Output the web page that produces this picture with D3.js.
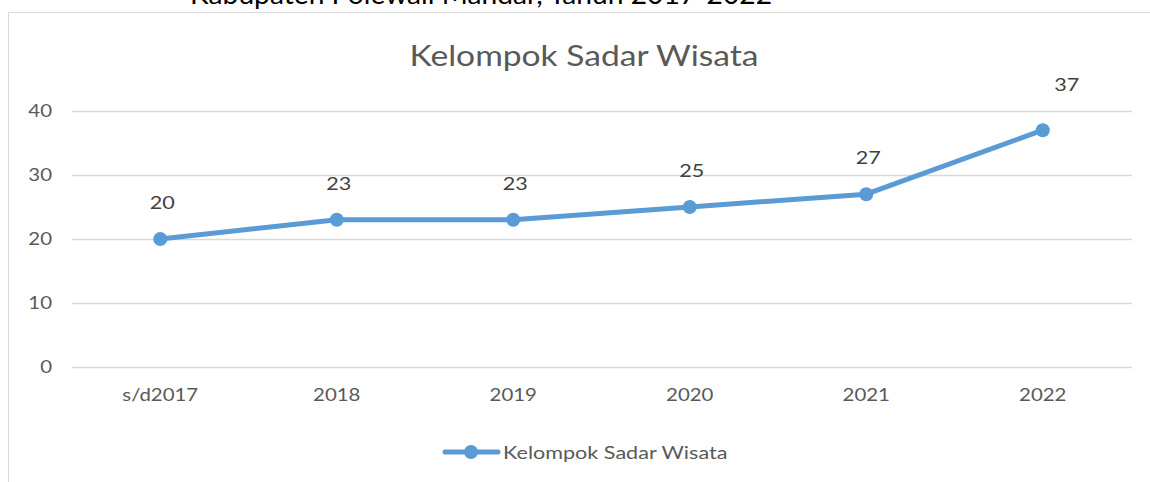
<!DOCTYPE html>
<html><head><meta charset="utf-8">
<script src="https://cdn.jsdelivr.net/npm/d3@7"></script>
<style>html,body{margin:0;padding:0;background:#fff;} svg{display:block;}</style>
</head><body>
<svg id="c" width="1150" height="482"></svg>
<script>
const categories = ["s/d2017","2018","2019","2020","2021","2022"];
const values = [20,23,23,25,27,37];
const yTicks = [0,10,20,30,40];
const seriesName = "Kelompok Sadar Wisata";
const chartTitle = "Kelompok Sadar Wisata";
const topCaption = "Kabupaten Polewali Mandar, Tahun 2017-2022";

const svg = d3.select("#c");
const color = "#5B9BD5";
const font = "Lato, 'Open Sans', sans-serif";
const SX = 1.2; // horizontal stretch of the original's lettering

function stretch(sel) {
  sel.each(function () {
    const t = d3.select(this);
    const x = +t.attr("x") || 0, y = +t.attr("y") || 0;
    t.attr("x", 0).attr("y", 0)
     .attr("transform", `translate(${x},${y}) scale(${SX},1)`);
  });
}

// top caption (cut off)
svg.append("text").attr("x", 190).attr("y", 4)
  .attr("font-family", font).attr("font-size", 26).attr("fill", "#000")
  .attr("textLength", 582).attr("lengthAdjust", "spacingAndGlyphs")
  .text(topCaption);

// chart border
svg.append("rect").attr("x", 8.5).attr("y", 12.5).attr("width", 1160).attr("height", 500)
  .attr("fill", "#fff").attr("stroke", "#d9d9d9").attr("stroke-width", 1);

const x = d3.scaleBand().domain(categories).range([72, 1131]);
const y = d3.scaleLinear().domain([0, 40]).range([367, 111]);

// gridlines
svg.append("g").selectAll("line").data(yTicks).join("line")
  .attr("x1", 72).attr("x2", 1132)
  .attr("y1", d => Math.round(y(d)) + 0.5).attr("y2", d => Math.round(y(d)) + 0.5)
  .attr("stroke", "#d9d9d9").attr("stroke-width", 1.3);

// y axis
const yAxis = svg.append("g").attr("transform", "translate(60,0)")
  .call(d3.axisLeft(y).tickValues(yTicks).tickSize(0).tickPadding(8));
yAxis.select(".domain").remove();
yAxis.selectAll("text").attr("font-family", font).attr("font-size", 17).attr("fill", "#595959");
stretch(yAxis.selectAll("text"));

// x axis
const xAxis = svg.append("g").attr("transform", "translate(0,389)")
  .call(d3.axisBottom(x).tickSize(0).tickPadding(0));
xAxis.select(".domain").remove();
xAxis.selectAll("text").attr("font-family", font).attr("font-size", 17).attr("fill", "#595959");
stretch(xAxis.selectAll("text"));

// title
const title = svg.append("text").attr("x", 584).attr("y", 66).attr("text-anchor", "middle")
  .attr("font-family", font).attr("font-size", 28).attr("fill", "#595959")
  .text(chartTitle);
stretch(title);

const cx = d => x(d) + x.bandwidth() / 2;
const data = categories.map((c, i) => ({c, v: values[i]}));

svg.append("path").datum(data)
  .attr("fill", "none").attr("stroke", color).attr("stroke-width", 5)
  .attr("stroke-linejoin", "round").attr("stroke-linecap", "round")
  .attr("d", d3.line().x(d => cx(d.c)).y(d => y(d.v)));

svg.append("g").selectAll("circle").data(data).join("circle")
  .attr("cx", d => cx(d.c)).attr("cy", d => y(d.v)).attr("r", 7).attr("fill", color);

// data labels
const labels = svg.append("g").selectAll("text").data(data).join("text")
  .attr("x", (d, i) => cx(d.c) + (i === data.length - 1 ? 24 : 2))
  .attr("y", (d, i) => y(d.v) - (i === data.length - 1 ? 39 : 30))
  .attr("text-anchor", "middle")
  .attr("font-family", font).attr("font-size", 18).attr("fill", "#404040")
  .text(d => d.v);
stretch(labels);

// legend
const lg = svg.append("g").attr("transform", "translate(443,452)");
lg.append("line").attr("x1", 2).attr("x2", 55).attr("y1", 0).attr("y2", 0)
  .attr("stroke", color).attr("stroke-width", 5).attr("stroke-linecap", "round");
lg.append("circle").attr("cx", 28).attr("cy", 0).attr("r", 7).attr("fill", color);
const lt = lg.append("text").attr("x", 60).attr("y", 6.5)
  .attr("font-family", font).attr("font-size", 18).attr("fill", "#595959")
  .text(seriesName);
stretch(lt);
</script>
</body></html>
